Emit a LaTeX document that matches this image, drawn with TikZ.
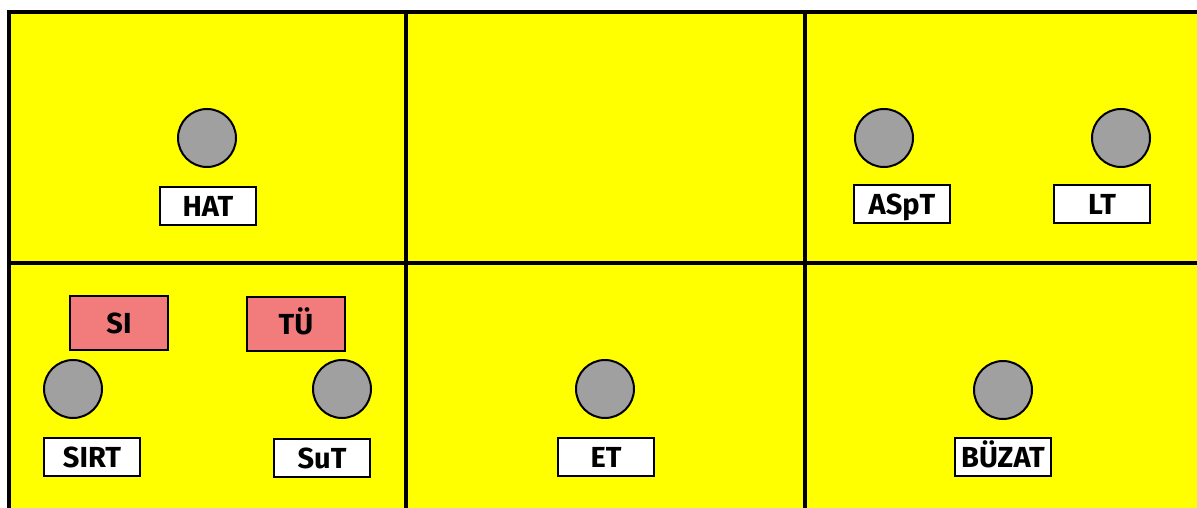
\documentclass[tikz,border=0pt]{standalone}
\usepackage{fontspec}
\setmainfont{Fira Sans}
\definecolor{cellyellow}{HTML}{FFFF00}
\definecolor{dotgray}{HTML}{A0A0A0}
\definecolor{redbox}{HTML}{F27B7B}
\begin{document}
\begin{tikzpicture}[x=1pt,y=-1pt,
  dot/.style={circle,draw=black,line width=2pt,fill=dotgray,minimum size=58pt,inner sep=0pt},
  lbl/.style={rectangle,draw=black,line width=2pt,fill=white,minimum width=96pt,minimum height=38pt,inner sep=0pt,text height=20pt,text depth=0pt,font=\fontsize{29}{29}\selectfont\bfseries},
  redlbl/.style={lbl,fill=redbox,minimum width=98pt,minimum height=54pt},
  gridline/.style={line width=4pt,draw=black}]
\useasboundingbox (0,0) rectangle (1197,508);
\fill[white] (0,0) rectangle (1197,508);
\fill[cellyellow] (9,12) rectangle (1210,520);
\draw[gridline] (9,520) -- (9,12) -- (1210,12);
\draw[gridline] (406,12) -- (406,520);
\draw[gridline] (805,12) -- (805,520);
\draw[gridline] (9,263) -- (1210,263);
% top-left
\node[dot] (hatc) at (207,138) {};
\node[lbl] (hat) at (208,206) {HAT};
% top-right
\node[dot] (aspc) at (884,138) {};
\node[lbl] (asp) at (902,204) {ASpT};
\node[dot] (ltc) at (1121,138) {};
\node[lbl] (lt) at (1102,204) {LT};
% bottom-left
\node[redlbl] (si) at (119,323) {SI};
\node[redlbl] (tu) at (296,324) {TÜ};
\node[dot] (sirtc) at (73,389) {};
\node[lbl] (sirt) at (92,457) {SIRT};
\node[dot] (sutc) at (342,389) {};
\node[lbl] (sut) at (322,458) {SuT};
% bottom-middle
\node[dot] (etc) at (605,389) {};
\node[lbl] (et) at (606,457) {ET};
% bottom-right
\node[dot] (buzc) at (1003,390) {};
\node[lbl] (buz) at (1003,457) {BÜZAT};
\end{tikzpicture}
\end{document}
